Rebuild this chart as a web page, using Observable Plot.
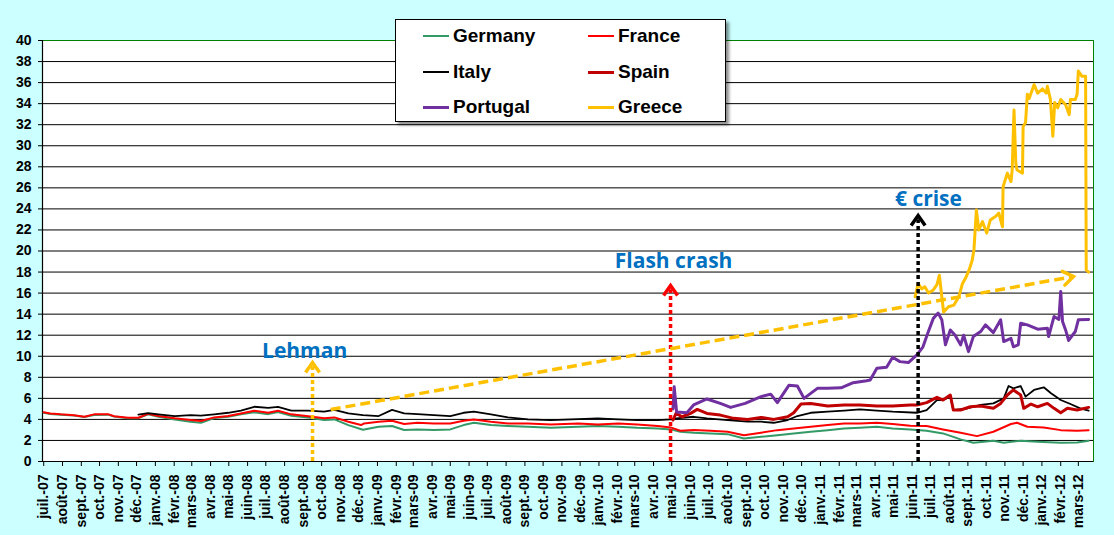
<!DOCTYPE html>
<html><head><meta charset="utf-8">
<script src="https://cdn.jsdelivr.net/npm/d3@7"></script>
<script src="https://cdn.jsdelivr.net/npm/@observablehq/plot@0.6"></script>
<style>
body{margin:0;background:#CCFFFF;}
#wrap{position:relative;width:1114px;height:535px;background:#CCFFFF;overflow:hidden;}
#legend{position:absolute;left:395px;top:19px;width:329px;height:101px;background:#fff;border:1px solid #000;box-shadow:3px 3px 3px rgba(0,0,0,0.45);font:bold 19px "Liberation Sans",Arial,sans-serif;color:#000;}
.item{position:absolute;display:flex;align-items:center;height:24px;white-space:nowrap;}
.swatch{width:26px;margin-right:4px;}
g[aria-label="y-axis tick label"]{font-size:14px !important;font-weight:bold;}
g[aria-label="x-axis tick label"]{font-size:14px !important;font-weight:bold;}
</style></head><body>
<div id="wrap"><div id="legend"></div></div>
<script>
// ---- data (10-year government bond yields, %) ----
const germany = [["2007-07-01",4.62],["2007-07-12",4.52],["2007-07-29",4.45],["2007-08-20",4.36],["2007-09-06",4.22],["2007-09-22",4.42],["2007-10-15",4.45],["2007-10-25",4.27],["2007-11-17",4.12],["2007-12-04",4.12],["2007-12-20",4.48],["2008-01-06",4.25],["2008-02-02",4.0],["2008-02-28",3.78],["2008-03-16",3.68],["2008-04-07",4.13],["2008-04-30",4.25],["2008-05-21",4.48],["2008-06-12",4.67],["2008-07-05",4.5],["2008-07-21",4.7],["2008-08-12",4.35],["2008-09-09",4.19],["2008-10-05",3.94],["2008-10-22",4.0],["2008-11-14",3.46],["2008-12-08",3.02],["2009-01-03",3.3],["2009-01-25",3.37],["2009-02-14",3.0],["2009-03-08",3.05],["2009-04-04",3.0],["2009-05-01",3.05],["2009-05-23",3.46],["2009-06-09",3.68],["2009-07-07",3.46],["2009-08-04",3.37],["2009-09-06",3.3],["2009-10-14",3.2],["2009-11-28",3.3],["2009-12-30",3.37],["2010-02-02",3.3],["2010-03-05",3.2],["2010-04-08",3.14],["2010-04-29",3.05],["2010-05-15",2.83],["2010-06-06",2.73],["2010-07-04",2.67],["2010-08-01",2.6],["2010-08-28",2.19],["2010-09-25",2.35],["2010-10-22",2.5],["2010-11-18",2.67],["2010-12-16",2.83],["2011-01-13",2.98],["2011-02-09",3.14],["2011-03-07",3.2],["2011-04-04",3.3],["2011-04-30",3.14],["2011-05-29",3.05],["2011-06-25",2.92],["2011-07-22",2.67],["2011-08-20",2.1],["2011-09-10",1.78],["2011-09-27",1.87],["2011-10-13",1.97],["2011-10-30",1.78],["2011-11-27",1.97],["2011-12-25",1.87],["2012-02-01",1.78],["2012-02-28",1.81],["2012-03-18",1.97]];
const france = [["2007-07-01",4.67],["2007-07-12",4.57],["2007-07-29",4.48],["2007-08-20",4.4],["2007-09-06",4.25],["2007-09-22",4.48],["2007-10-15",4.5],["2007-10-25",4.3],["2007-11-17",4.16],["2007-12-04",4.16],["2007-12-20",4.54],["2008-01-06",4.32],["2008-02-02",4.1],["2008-02-28",3.94],["2008-03-16",3.84],["2008-04-07",4.19],["2008-04-30",4.32],["2008-05-21",4.57],["2008-06-12",4.83],["2008-07-05",4.63],["2008-07-21",4.83],["2008-08-12",4.48],["2008-09-09",4.3],["2008-10-05",4.1],["2008-10-22",4.19],["2008-11-14",3.78],["2008-12-05",3.46],["2008-12-10",3.62],["2009-01-03",3.78],["2009-01-25",3.87],["2009-02-14",3.56],["2009-03-08",3.68],["2009-04-04",3.62],["2009-05-01",3.62],["2009-05-23",3.87],["2009-06-09",4.0],["2009-07-07",3.78],["2009-08-04",3.62],["2009-09-06",3.62],["2009-10-14",3.52],["2009-11-28",3.62],["2009-12-30",3.52],["2010-02-02",3.62],["2010-03-05",3.52],["2010-04-08",3.37],["2010-04-29",3.24],["2010-05-15",2.92],["2010-06-06",3.0],["2010-07-04",2.92],["2010-08-01",2.83],["2010-08-28",2.5],["2010-09-25",2.73],["2010-10-22",2.98],["2010-11-18",3.14],["2010-12-16",3.3],["2011-01-13",3.46],["2011-02-09",3.62],["2011-03-07",3.62],["2011-04-04",3.68],["2011-04-30",3.56],["2011-05-29",3.4],["2011-06-25",3.37],["2011-07-22",3.05],["2011-08-20",2.73],["2011-09-16",2.41],["2011-10-13",2.83],["2011-11-11",3.56],["2011-11-21",3.68],["2011-12-08",3.3],["2012-01-04",3.24],["2012-02-01",2.98],["2012-02-28",2.92],["2012-03-18",2.98]];
const italy = [["2007-12-04",4.45],["2007-12-20",4.6],["2008-01-06",4.48],["2008-02-02",4.32],["2008-02-28",4.4],["2008-03-16",4.35],["2008-04-07",4.48],["2008-04-30",4.63],["2008-05-21",4.83],["2008-06-12",5.2],["2008-07-05",5.1],["2008-07-21",5.2],["2008-08-12",4.83],["2008-09-09",4.83],["2008-10-05",4.73],["2008-10-22",4.9],["2008-11-14",4.57],["2008-12-08",4.4],["2009-01-03",4.32],["2009-01-25",4.9],["2009-02-14",4.57],["2009-03-08",4.5],["2009-04-04",4.41],["2009-05-01",4.32],["2009-05-23",4.63],["2009-06-09",4.73],["2009-07-07",4.48],["2009-08-04",4.19],["2009-09-06",4.0],["2009-10-14",3.94],["2009-11-28",4.03],["2009-12-30",4.1],["2010-02-02",4.0],["2010-03-05",3.94],["2010-04-08",3.94],["2010-04-29",4.0],["2010-05-09",4.1],["2010-06-06",4.25],["2010-06-28",4.1],["2010-08-01",3.94],["2010-09-03",3.78],["2010-09-25",3.78],["2010-10-16",3.68],["2010-11-08",3.94],["2010-11-24",4.32],["2010-12-16",4.63],["2011-01-13",4.73],["2011-02-09",4.83],["2011-03-07",4.95],["2011-04-04",4.83],["2011-04-30",4.73],["2011-06-09",4.63],["2011-06-25",4.89],["2011-07-12",5.84],["2011-07-22",5.84],["2011-08-03",6.16],["2011-08-08",4.89],["2011-08-31",5.05],["2011-09-22",5.37],["2011-10-13",5.52],["2011-10-30",6.0],["2011-11-07",7.17],["2011-11-15",6.95],["2011-11-27",7.17],["2011-12-05",6.16],["2011-12-19",6.8],["2012-01-04",7.05],["2012-01-16",6.48],["2012-02-01",5.84],["2012-02-17",5.46],["2012-03-04",5.05],["2012-03-18",4.83]];
const spain = [["2010-05-03",3.94],["2010-05-08",4.57],["2010-05-18",4.25],["2010-06-01",4.57],["2010-06-12",4.95],["2010-06-28",4.57],["2010-07-20",4.41],["2010-08-11",4.1],["2010-09-03",4.0],["2010-09-25",4.19],["2010-10-16",4.0],["2010-11-08",4.25],["2010-11-18",4.63],["2010-11-30",5.46],["2010-12-16",5.52],["2011-01-13",5.27],["2011-02-09",5.37],["2011-03-07",5.37],["2011-04-04",5.27],["2011-04-30",5.27],["2011-05-29",5.37],["2011-06-09",5.37],["2011-06-25",5.59],["2011-07-12",6.1],["2011-07-22",5.84],["2011-08-03",6.32],["2011-08-08",4.89],["2011-08-20",4.89],["2011-09-05",5.2],["2011-09-22",5.27],["2011-10-13",5.05],["2011-10-25",5.52],["2011-11-05",6.32],["2011-11-15",6.8],["2011-11-27",6.32],["2011-12-02",5.05],["2011-12-14",5.46],["2011-12-25",5.2],["2012-01-10",5.52],["2012-01-21",5.05],["2012-02-01",4.63],["2012-02-12",5.05],["2012-02-28",4.89],["2012-03-18",5.14]];
const portugal = [["2010-05-03",5.0],["2010-05-05",7.1],["2010-05-09",4.7],["2010-05-26",4.63],["2010-06-06",5.37],["2010-06-28",5.94],["2010-07-20",5.52],["2010-08-06",5.14],["2010-08-30",5.52],["2010-09-25",6.16],["2010-10-11",6.4],["2010-10-22",5.59],["2010-11-10",7.24],["2010-11-24",7.17],["2010-12-05",6.0],["2010-12-27",6.95],["2011-01-13",6.95],["2011-02-04",7.0],["2011-02-24",7.49],["2011-03-18",7.68],["2011-03-24",7.75],["2011-04-04",8.86],["2011-04-20",8.95],["2011-04-30",9.9],["2011-05-12",9.49],["2011-05-26",9.4],["2011-06-09",10.13],["2011-06-19",10.9],["2011-06-27",12.2],["2011-07-06",13.6],["2011-07-14",14.1],["2011-07-20",13.46],["2011-07-26",11.08],["2011-08-03",12.5],["2011-08-11",12.0],["2011-08-20",11.08],["2011-08-25",12.0],["2011-09-02",10.44],["2011-09-10",11.87],["2011-09-22",12.35],["2011-09-30",12.98],["2011-10-13",12.25],["2011-10-25",13.46],["2011-10-30",11.4],["2011-11-11",11.7],["2011-11-15",10.9],["2011-11-23",11.08],["2011-11-27",13.14],["2011-12-08",12.98],["2011-12-25",12.57],["2012-01-10",12.67],["2012-01-12",11.87],["2012-01-21",13.78],["2012-01-29",13.5],["2012-02-01",16.16],["2012-02-04",13.3],["2012-02-09",12.5],["2012-02-14",11.5],["2012-02-25",12.35],["2012-03-01",13.46],["2012-03-18",13.5]];
const greece = [["2011-06-06",15.65],["2011-06-11",16.9],["2011-06-17",16.4],["2011-06-22",16.6],["2011-06-28",16.0],["2011-07-06",16.3],["2011-07-12",16.8],["2011-07-16",17.7],["2011-07-20",15.65],["2011-07-23",14.2],["2011-07-31",14.7],["2011-08-09",14.86],["2011-08-17",15.65],["2011-08-23",16.9],["2011-08-28",17.4],["2011-09-03",18.2],["2011-09-08",19.1],["2011-09-11",20.1],["2011-09-15",23.9],["2011-09-19",22.0],["2011-09-25",22.8],["2011-10-02",21.7],["2011-10-08",22.95],["2011-10-17",23.3],["2011-10-22",23.6],["2011-10-28",22.3],["2011-10-29",26.1],["2011-11-05",27.4],["2011-11-11",26.6],["2011-11-13",27.7],["2011-11-16",33.4],["2011-11-19",28.3],["2011-11-21",27.7],["2011-11-30",27.4],["2011-12-01",31.8],["2011-12-05",32.2],["2011-12-08",34.9],["2011-12-11",34.5],["2011-12-19",35.8],["2011-12-25",35.0],["2012-01-02",35.4],["2012-01-08",35.0],["2012-01-10",35.65],["2012-01-15",34.4],["2012-01-19",30.9],["2012-01-22",34.1],["2012-01-27",33.6],["2012-02-01",34.4],["2012-02-09",33.9],["2012-02-15",32.95],["2012-02-17",34.4],["2012-02-25",34.4],["2012-02-28",34.9],["2012-03-01",37.1],["2012-03-07",36.6],["2012-03-13",36.6],["2012-03-14",18.2],["2012-03-18",18.0]];

// series metadata
const seriesNames = ["Germany","France","Italy","Spain","Portugal","Greece"];
const seriesColors = ["#339966","#FF0000","#000000","#C00000","#7030A0","#FFC000"];
const seriesWidths = [2,2,1.8,3,3,3];
const seriesData = [germany, france, italy, spain, portugal, greece];

// tick labels
const yTicks = d3.range(0, 41, 2);
const moisAbbr = ["janv.","févr.","mars","avr.","mai","juin","juil.","août","sept.","oct.","nov.","déc."];
const monthTicks = d3.utcMonth.range(new Date("2007-07-01"), new Date("2012-03-02"));

// annotations: events (date, arrow tip value), labels (date, baseline value)
const events = [
  {name:"Lehman", date:"2008-09-16", tip:9.4, color:"#FFC000", labelDate:"2008-09-03", labelValue:9.88},
  {name:"Flash crash", date:"2010-04-29", tip:16.72, color:"#FF0000", labelDate:"2010-05-04", labelValue:18.34},
  {name:"€ crise", date:"2011-06-11", tip:23.37, color:"#000000", labelDate:"2011-06-28", labelValue:24.32}
];
const trend = {from:["2008-10-16",4.94], to:["2012-02-22",17.58]};

// ---- layout ----
const W = 1114, H = 535, mL = 42, mR = 21, mT = 40, mB = 74;
const xDomain = [new Date("2007-06-29"), new Date("2012-03-26")];
const rows = a => a.map(([d, v]) => ({date: new Date(d), value: v}));

const sx = Plot.scale({x: {type: "utc", domain: xDomain, range: [mL, W - mR]}});
const sy = Plot.scale({y: {type: "linear", domain: [0, 40], range: [H - mB, mT]}});
const tFrom = {date: new Date(trend.from[0]), value: trend.from[1]};
const tTo = {date: new Date(trend.to[0]), value: trend.to[1]};
const ddx = sx.apply(tTo.date) - sx.apply(tFrom.date);
const ddy = sy.apply(tTo.value) - sy.apply(tFrom.value);
const trendAngle = Math.atan2(ddx, -ddy) * 180 / Math.PI;

const chevron = {draw(ctx) { ctx.moveTo(-7, 10); ctx.lineTo(0, 0); ctx.lineTo(7, 10); }};

const ev = events.map(e => ({...e, date: new Date(e.date), labelDate: new Date(e.labelDate)}));

const marks = [
  Plot.frame({fill: "white", stroke: "none"}),
  Plot.gridY(d3.range(2, 40, 2), {stroke: "#000", strokeOpacity: 1, strokeWidth: 1}),
  Plot.frame({stroke: "#008000", strokeWidth: 1}),
  Plot.ruleY([0], {stroke: "#000", strokeWidth: 1.2}),
  Plot.ruleX([xDomain[0]], {stroke: "#000", strokeWidth: 1.2}),
  Plot.axisY(yTicks, {label: null, tickSize: 4, tickPadding: 7, fontSize: 14, fontWeight: "bold", stroke: "#000", color: "#000"}),
  Plot.axisX(monthTicks, {label: null, tickRotate: -90, tickSize: 5, tickPadding: 8, fontSize: 14, fontWeight: "bold",
    tickFormat: d => moisAbbr[d.getUTCMonth()] + "-" + String(d.getUTCFullYear()).slice(2)})
];
seriesData.forEach((s, i) => {
  marks.push(Plot.line(rows(s), {x: "date", y: "value", stroke: seriesColors[i], strokeWidth: seriesWidths[i], strokeLinejoin: "round"}));
});
// dotted event arrows
ev.forEach(e => {
  marks.push(Plot.ruleX([e], {x: "date", y1: 0, y2: d => d.tip - 0.4, stroke: e.color, strokeWidth: 3.5, strokeDasharray: "4,3"}));
  marks.push(Plot.vector([e], {x: "date", y: "tip", length: 10, anchor: "start", rotate: 0, shape: chevron, stroke: e.color, strokeWidth: 3.5, fill: "none", strokeLinejoin: "miter", strokeLinecap: "butt"}));
  marks.push(Plot.text([e], {x: "labelDate", y: "labelValue", text: "name", lineAnchor: "bottom", fill: "#0070C0", fontSize: 21, fontWeight: "bold", fontFamily: "'Open Sans', sans-serif"}));
});
// dashed trend arrow
marks.push(Plot.link([{a: tFrom, b: tTo}], {x1: d => d.a.date, y1: d => d.a.value, x2: d => d.b.date, y2: d => d.b.value, stroke: "#FFC000", strokeWidth: 3.5, strokeDasharray: "10,5"}));
marks.push(Plot.vector([tTo], {x: "date", y: "value", length: 10, anchor: "start", rotate: trendAngle, shape: chevron, stroke: "#FFC000", strokeWidth: 3.5, fill: "none", strokeLinejoin: "miter"}));

const chart = Plot.plot({
  width: W, height: H,
  marginLeft: mL, marginRight: mR, marginTop: mT, marginBottom: mB,
  x: {type: "utc", domain: xDomain},
  y: {domain: [0, 40]},
  style: {background: "#CCFFFF", fontFamily: "'Liberation Sans', Arial, sans-serif", fontWeight: "bold", color: "#000", overflow: "visible"},
  marks
});
const wrap = document.getElementById("wrap");
wrap.prepend(chart);

// legend
const legend = document.getElementById("legend");
const cols = [27, 192], rowsY = [16, 52, 87];
seriesNames.forEach((n, i) => {
  const item = document.createElement("div");
  item.className = "item";
  item.style.left = cols[i % 2] + "px";
  item.style.top = (rowsY[Math.floor(i / 2)] - 12) + "px";
  const sw = document.createElement("div");
  sw.className = "swatch";
  sw.style.height = (seriesWidths[i] >= 3 ? 3 : 2) + "px";
  sw.style.background = seriesColors[i];
  const t = document.createElement("span");
  t.textContent = n;
  item.append(sw, t);
  legend.append(item);
});
</script>
</body></html>
